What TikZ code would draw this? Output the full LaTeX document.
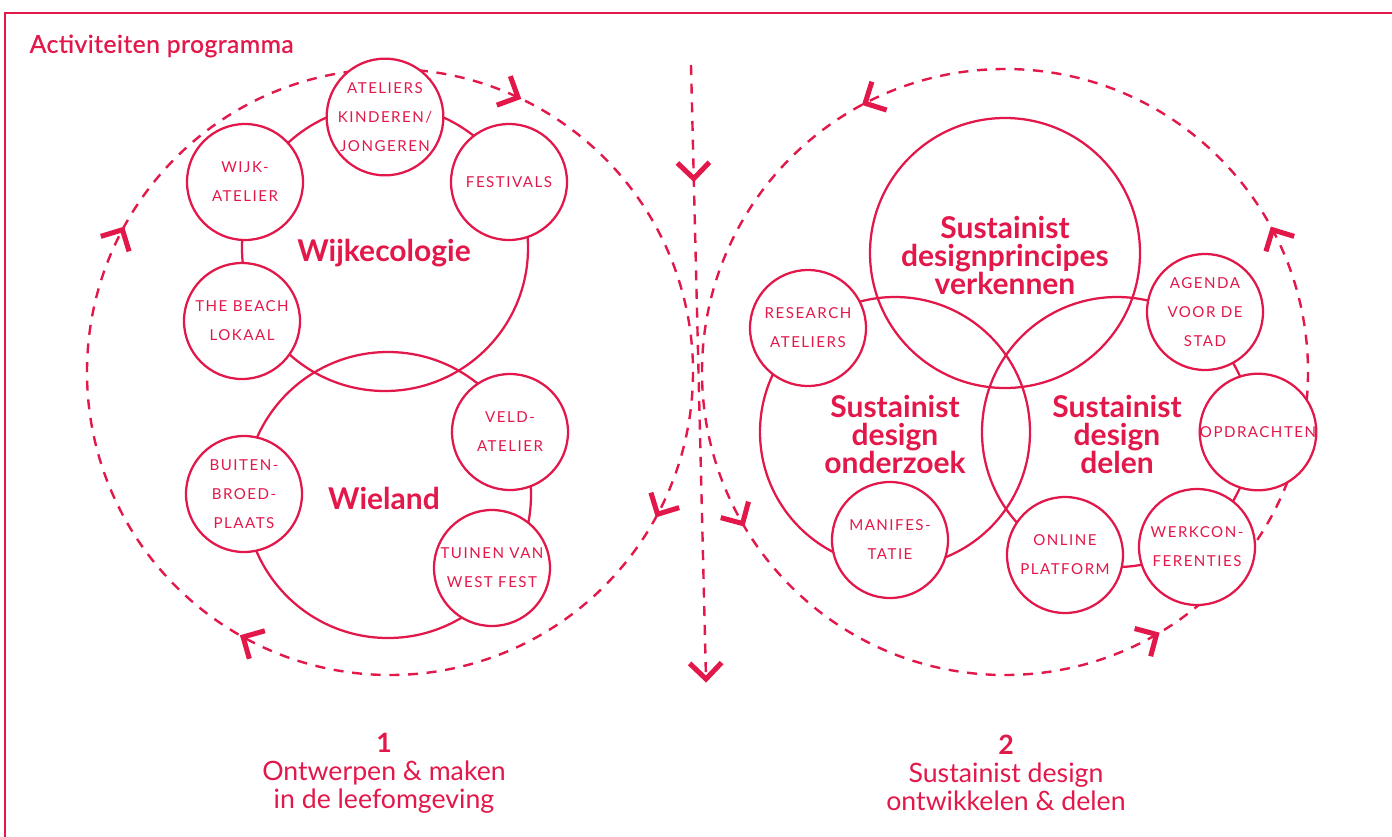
\documentclass[tikz,border=0pt]{standalone}
\usepackage{fontspec}
\setmainfont{Lato}
\newfontfamily\capsfont[LetterSpace=10]{Lato}
\newfontfamily\titlefont[LetterSpace=2,FakeBold=0.8]{Lato}
\usetikzlibrary{calc}
\definecolor{rd}{HTML}{E2184A}
\newcommand\mychev[2]{\draw[chev, shift={(#1)}, rotate=#2] (-16,-16) -- (0,0) -- (-16,16);}
\begin{document}
\begin{tikzpicture}[x=0.75pt,y=-0.75pt,
  bigc/.style={circle, draw=rd, line width=1.7pt, inner sep=0pt},
  biglabel/.style={text=rd, align=center, inner sep=0pt,
    font=\fontsize{22.5}{21}\selectfont\bfseries},
  smallc/.style={circle, draw=rd, line width=1.7pt, fill=white, minimum size=87pt, inner sep=0pt,
    text=rd, align=center, font=\capsfont\fontsize{11.3}{21.75}\selectfont},
  dashc/.style={draw=rd, line width=1.8pt, dash pattern=on 7.5pt off 6.5pt},
  chev/.style={draw=rd, line width=3.8pt, line join=miter, miter limit=10},
  framel/.style={draw=rd, line width=1.1pt},
  caption/.style={text=rd, align=center, font=\fontsize{20}{21}\selectfont}]
\useasboundingbox (0,0) rectangle (1392,836);
% frame
\coordinate (f1) at (1400,13);
\coordinate (f2) at (5,13);
\coordinate (f3) at (5,845);
\draw[framel] (f1) -- (f2) -- (f3);
\node[text=rd, anchor=west, font=\titlefont\fontsize{18.5}{20}\selectfont] (title) at (25,46) {Activiteiten programma};
% dashed cycles
\coordinate (L) at (390,372);
\coordinate (R) at (1005,372);
\draw[dashc] (L) circle[radius=303];
\draw[dashc] (R) circle[radius=303];
% vertical dashed line
\coordinate (vt) at (691,65);
\coordinate (vb) at (706,679);
\coordinate (vm) at ($(vt)!0.185!(vb)$);
\draw[dashc] (vt) -- (vb);
\mychev{vm}{-88.6}
\mychev{vb}{-88.6}
% chevrons on left cycle (clockwise)
\coordinate (la1) at ($(L)+(-65:303)$);
\coordinate (la2) at ($(L)+(-152:303)$);
\coordinate (la3) at ($(L)+(-241:303)$);
\coordinate (la4) at ($(L)+(-332:303)$);
\mychev{la1}{-25}
\mychev{la2}{62}
\mychev{la3}{151}
\mychev{la4}{242}
% chevrons on right cycle (counter-clockwise)
\coordinate (ra1) at ($(R)+(-28:303)$);
\coordinate (ra2) at ($(R)+(-117.5:303)$);
\coordinate (ra3) at ($(R)+(-210:303)$);
\coordinate (ra4) at ($(R)+(-300:303)$);
\mychev{ra1}{118}
\mychev{ra2}{207.5}
\mychev{ra3}{300}
\mychev{ra4}{30}
% left cluster big circles
\node[bigc, minimum size=214.5pt] (wijk) at (385,248) {};
\node[bigc, minimum size=214.5pt] (wiel) at (388,495) {};
\node[biglabel] (wijkl) at (384,253) {Wijkecologie};
\node[biglabel] (wiell) at (384,498) {Wieland};
% right cluster big circles
\node[bigc, minimum size=202.5pt] (verk) at (1005,253) {};
\node[bigc, minimum size=202.5pt] (onder) at (895,432) {};
\node[bigc, minimum size=202.5pt] (delen) at (1117,432) {};
\node[biglabel] (verkl) at (1005,255) {Sustainist\\designprincipes\\verkennen};
\node[biglabel] (onderl) at (895,434) {Sustainist\\design\\onderzoek};
\node[biglabel] (delenl) at (1117,434) {Sustainist\\design\\delen};
% left cluster small circles
\node[smallc] (atel) at (385,117) {ATELIERS\\KINDEREN/\\JONGEREN};
\node[smallc] (wijkat) at (245,182) {WIJK-\\ATELIER};
\node[smallc] (fest) at (509,182) {FESTIVALS};
\node[smallc] (beach) at (242,321) {THE BEACH\\LOKAAL};
\node[smallc] (veld) at (510,432) {VELD-\\ATELIER};
\node[smallc] (buiten) at (244,494) {BUITEN-\\BROED-\\PLAATS};
\node[smallc] (tuinen) at (492,568) {TUINEN VAN\\WEST FEST};
% right cluster small circles
\node[smallc] (research) at (808,328) {RESEARCH\\ATELIERS};
\node[smallc] (agenda) at (1205,312) {AGENDA\\VOOR DE\\STAD};
\node[smallc] (opdr) at (1258,432) {OPDRACHTEN};
\node[smallc] (werk) at (1197,547) {WERKCON-\\FERENTIES};
\node[smallc] (online) at (1065,555) {ONLINE\\PLATFORM};
\node[smallc] (manif) at (890,540) {MANIFES-\\TATIE};
% captions
\node[caption] (cap1) at (384,773) {{\bfseries 1}\\Ontwerpen \& maken\\in de leefomgeving};
\node[caption] (cap2) at (1006,773) {{\bfseries 2}\\Sustainist design\\ontwikkelen \& delen};
\end{tikzpicture}
\end{document}
